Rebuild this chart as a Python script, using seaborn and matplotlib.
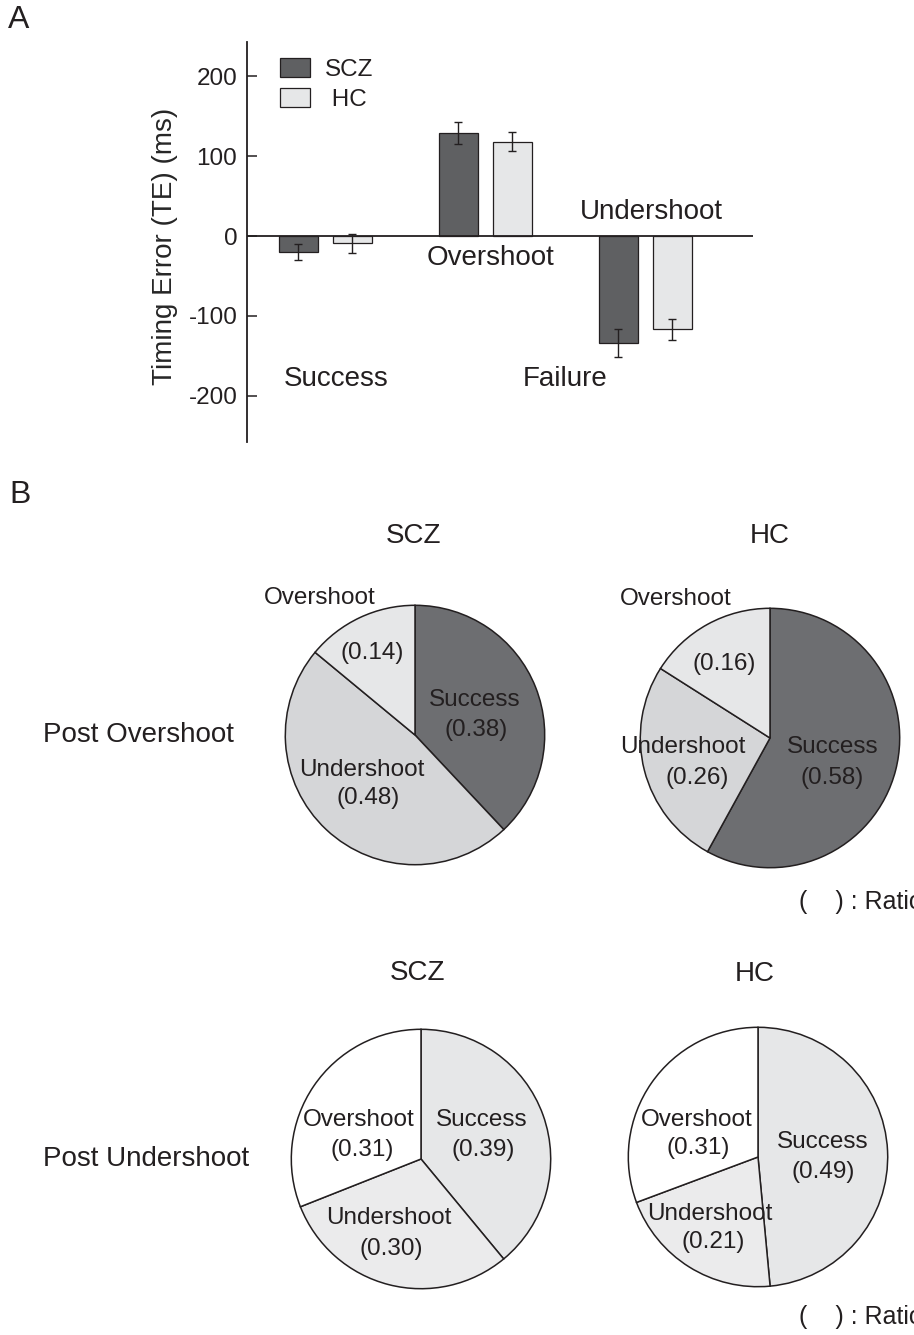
import pandas as pd
import matplotlib
matplotlib.use("Agg")
import matplotlib.pyplot as plt
import seaborn as sns

# ---- data ----
outcomes = ["Success", "Overshoot", "Undershoot"]
groups = ["SCZ", "HC"]
scz_te = [-20, 129, -134]
hc_te = [-9, 118, -117]
scz_err = [10, 14, 17]
hc_err = [12, 12, 13]

pie_labels = ["Success", "Undershoot", "Overshoot"]
post_over_scz = [0.38, 0.48, 0.14]
post_over_hc = [0.58, 0.26, 0.16]
post_under_scz = [0.39, 0.30, 0.31]
post_under_hc = [0.49, 0.21, 0.31]

sns.set_style("white")
plt.rcParams["font.family"] = ["Liberation Sans", "DejaVu Sans"]
plt.rcParams["text.color"] = "#231f20"
plt.rcParams["axes.unicode_minus"] = False

W, H = 914, 1335
fig = plt.figure(figsize=(W / 100, H / 100), dpi=100)


def fx(x):
    return x / W


def fy(y):
    return 1 - y / H


# PART A - bar chart
axA = fig.add_axes([fx(247), fy(442), 506 / W, 400 / H])
df = pd.DataFrame({
    "outcome": outcomes * 2,
    "group": ["SCZ"] * 3 + ["HC"] * 3,
    "te": scz_te + hc_te,
})
bar_colors = {"SCZ": "#5f6062", "HC": "#e6e7e8"}
sns.barplot(data=df, x="outcome", y="te", hue="group", hue_order=groups,
            order=outcomes, palette=bar_colors, edgecolor="#231f20",
            linewidth=0.9, width=0.676, gap=0.278, errorbar=None,
            legend=False, ax=axA)

# error bars at the end of each bar
for cont, errs in zip(axA.containers, [scz_err, hc_err]):
    for bar, e in zip(cont, errs):
        xc = bar.get_x() + bar.get_width() / 2
        yend = bar.get_y() + bar.get_height()
        if bar.get_height() < 0:
            yend = min(bar.get_y(), bar.get_y() + bar.get_height())
        axA.errorbar(xc, yend, yerr=e, color="#231f20", capsize=3,
                     elinewidth=1, capthick=1)

axA.axhline(0, color="#231f20", lw=1.3)
axA.set_xlim(-0.49, 2.675)
axA.set_ylim(-258, 243)
axA.set_yticks([-200, -100, 0, 100, 200])
axA.set_xticks([])
axA.set_xlabel("")
axA.set_ylabel("Timing Error (TE) (ms)", fontsize=20)
axA.yaxis.set_label_coords(-0.137, 0.49)
axA.tick_params(axis="y", labelsize=17.5, direction="in", length=7, width=1.1,
                pad=7, left=True, colors="#231f20")
for s in ["top", "right", "bottom"]:
    axA.spines[s].set_visible(False)
axA.spines["left"].set_linewidth(1.3)
axA.spines["left"].set_color("#231f20")

# category annotations
axA.text(0.07, -179, "Success", fontsize=20, ha="center", va="center")
axA.text(1.03, -27, "Overshoot", fontsize=20, ha="center", va="center")
axA.text(2.04, 30, "Undershoot", fontsize=20, ha="center", va="center")
axA.text(1.5, -179, "Failure", fontsize=20, ha="center", va="center")

handles = [plt.Rectangle((0, 0), 1, 1, facecolor=bar_colors[g],
                         edgecolor="#231f20", linewidth=0.9) for g in groups]
axA.legend(handles, ["SCZ", " HC"], loc="upper left",
           bbox_to_anchor=(0.066, 0.96), frameon=False, fontsize=17.5,
           handlelength=1.23, handleheight=0.8, handletextpad=0.6,
           labelspacing=0.3, borderpad=0, borderaxespad=0)

fig.text(fx(19), fy(20), "A", fontsize=23, ha="center", va="center")
fig.text(fx(20), fy(495), "B", fontsize=23, ha="center", va="center")

# PART B - pie charts
R = 131
top_colors = ["#6d6e71", "#d5d6d8", "#e6e7e8"]
bottom_colors = ["#e6e7e8", "#ebebec", "#ffffff"]

# text positions in units of radius: (name xy, ratio xy) for Success, Undershoot, Overshoot
pies = [
    (415, 735, post_over_scz, top_colors,
     [((0.463, 0.267), (0.47, 0.038)),
      ((-0.407, -0.267), (-0.364, -0.483)),
      ((-0.733, 1.053), (-0.33, 0.636))]),
    (770, 738, post_over_hc, top_colors,
     [((0.483, -0.066), (0.478, -0.308)),
      ((-0.669, -0.066), (-0.565, -0.308)),
      ((-0.725, 1.074), (-0.356, 0.570))]),
    (421, 1159, post_under_scz, bottom_colors,
     [((0.468, 0.298), (0.476, 0.069)),
      ((-0.25, -0.453), (-0.231, -0.695)),
      ((-0.483, 0.298), (-0.453, 0.069))]),
    (758, 1157, post_under_hc, bottom_colors,
     [((0.496, 0.117), (0.499, -0.112)),
      ((-0.374, -0.443), (-0.349, -0.659)),
      ((-0.471, 0.282), (-0.463, 0.066))]),
]

for cx, cy, vals, cols, pos in pies:
    ax = fig.add_axes([fx(cx - R), fy(cy + R), 2 * R / W, 2 * R / H])
    ax.pie(vals, colors=cols, startangle=90, counterclock=False, radius=1,
           wedgeprops=dict(edgecolor="#231f20", linewidth=1.1))
    ax.set_xlim(-1.01, 1.01)
    ax.set_ylim(-1.01, 1.01)
    ax.set_aspect("equal")
    ax.axis("off")
    for name, v, (p_name, p_val) in zip(pie_labels, vals, pos):
        ax.text(*p_name, name, fontsize=17.5, ha="center", va="center", clip_on=False)
        ax.text(*p_val, "(%.2f)" % v, fontsize=17.5, ha="center", va="center", clip_on=False)

fig.text(fx(414), fy(536), "SCZ", fontsize=20, ha="center", va="center")
fig.text(fx(770), fy(536), "HC", fontsize=20, ha="center", va="center")
fig.text(fx(418), fy(973), "SCZ", fontsize=20, ha="center", va="center")
fig.text(fx(755), fy(974), "HC", fontsize=20, ha="center", va="center")
fig.text(fx(138), fy(735), "Post Overshoot", fontsize=20, ha="center", va="center")
fig.text(fx(146), fy(1159), "Post Undershoot", fontsize=20, ha="center", va="center")
# the reference figure crops these notes at its right edge
fig.text(fx(799), fy(902), "(    ) : Ratio", fontsize=18, ha="left", va="center")
fig.text(fx(799), fy(1317), "(    ) : Ratio", fontsize=18, ha="left", va="center")

fig.savefig("out.png", dpi=100)
